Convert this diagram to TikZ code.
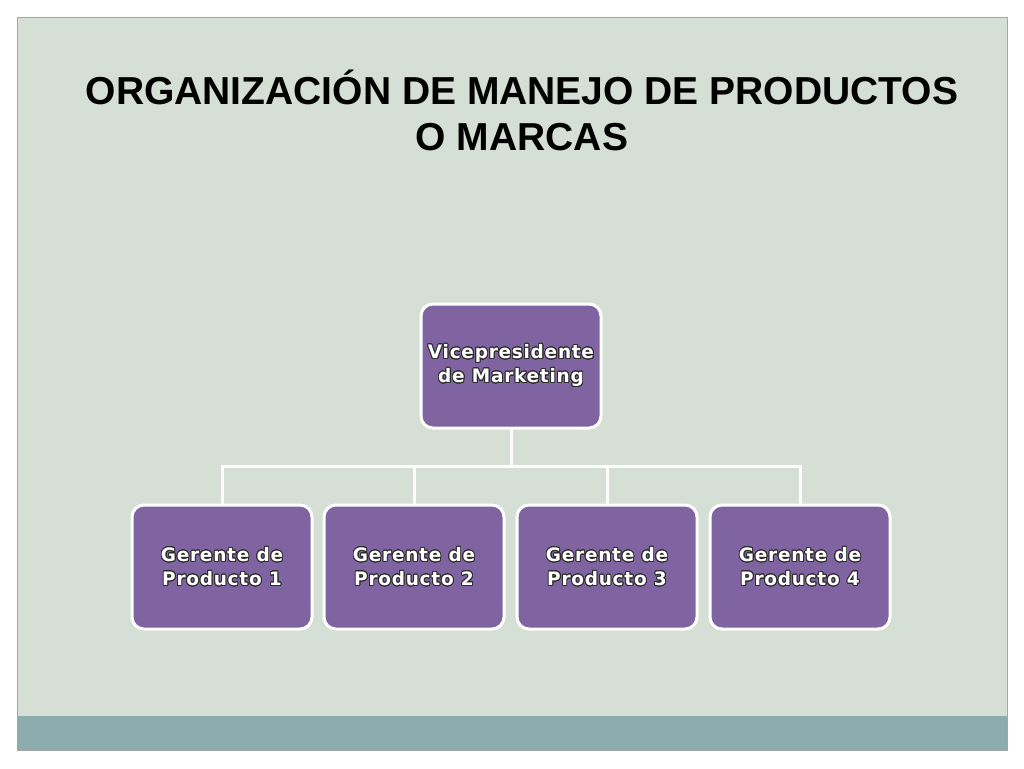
\documentclass[tikz,border=0pt]{standalone}
\usepackage{fontspec}
\setmainfont{Liberation Sans}
\newfontfamily\boxfont[LetterSpace=4]{DejaVu Sans}
\usepackage{contour}
\contourlength{0.9pt}
\contournumber{24}
\definecolor{panel}{HTML}{D5DFD5}
\definecolor{band}{HTML}{8BADAD}
\definecolor{purp}{HTML}{8064A2}
\definecolor{outl}{HTML}{2E2E2E}
\tikzset{
  org/.style={draw=white, line width=3pt, fill=purp, rounded corners=12pt, minimum width=180pt, minimum height=124pt, align=center, font=\boxfont\bfseries\fontsize{18.5}{24}\selectfont, text=white},
  link/.style={draw=white, line width=3pt}
}
\newcommand{\ot}[1]{\contour{outl}{#1}}
\begin{document}
\begin{tikzpicture}[x=1pt,y=-1pt]
\useasboundingbox (0,0) rectangle (1024,768);
\fill[white] (0,0) rectangle (1024,768);
\fill[panel] (17,17) rectangle (1007,750);
\fill[band] (17,716) rectangle (1007,750);
\draw[gray!70, line width=0.8pt] (17,17) rectangle (1007,750);
\node[font=\bfseries\fontsize{39}{46}\selectfont, align=center] (title) at (522,110) {ORGANIZACIÓN DE MANEJO DE PRODUCTOS\\O MARCAS};
\node[org] (vp) at (511,366) {\ot{Vicepresidente}\\\ot{de Marketing}};
\node[org] (g1) at (222,567) {\ot{Gerente de}\\\ot{Producto 1}};
\node[org] (g2) at (414,567) {\ot{Gerente de}\\\ot{Producto 2}};
\node[org] (g3) at (607,567) {\ot{Gerente de}\\\ot{Producto 3}};
\node[org] (g4) at (800,567) {\ot{Gerente de}\\\ot{Producto 4}};
\coordinate (hub) at (511,466);
\draw[link] (vp.south) -- (hub);
\foreach \g in {g1,g2,g3,g4}{\draw[link] (hub) -| (\g.north);}
\end{tikzpicture}
\end{document}
